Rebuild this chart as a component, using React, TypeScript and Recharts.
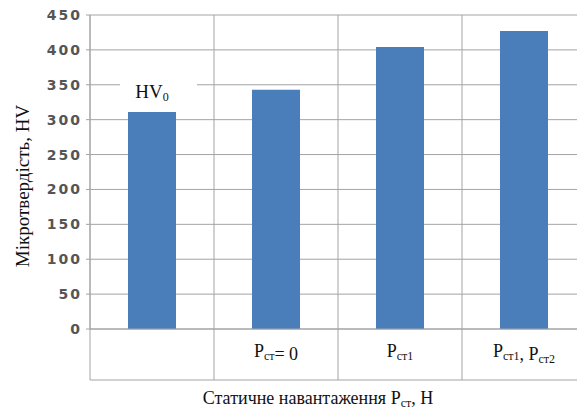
import { BarChart, Bar, XAxis, YAxis, CartesianGrid, LabelList, Label } from 'recharts';

const categories = ['', 'Pст= 0', 'Pст1', 'Pст1, Pст2'];
const hardness = [311, 343, 404, 427];
const notes = ['HV0', '', '', ''];
const yTicks = [0, 50, 100, 150, 200, 250, 300, 350, 400, 450];

const data = categories.map((name, i) => ({ name, hv: hardness[i], note: notes[i] }));

const GRID = '#a3a3a3';
const SERIF = 'Liberation Serif, serif';
const TOP = 15;
const ROW_H = 51;

// splits "Pст1, Pст2" into normal text + subscript parts
const renderSubscripts = (label: string) => {
    const parts: JSX.Element[] = [];
    const re = /P(ст\d?)/g;
    let last = 0;
    let m: RegExpExecArray | null;
    let k = 0;
    while ((m = re.exec(label)) !== null) {
        if (m.index > last) parts.push(<tspan key={k++} fontSize={18}>{label.slice(last, m.index)}</tspan>);
        parts.push(<tspan key={k++} fontSize={18}>P</tspan>);
        parts.push(<tspan key={k++} fontSize={12} dy={3}>{m[1]}</tspan>);
        parts.push(<tspan key={k++} fontSize={18} dy={-3}>{''}</tspan>);
        last = m.index + m[0].length;
    }
    if (last < label.length) parts.push(<tspan key={k++} fontSize={18}>{label.slice(last)}</tspan>);
    return parts;
};

const CategoryTick = (props: any) => {
    const { x, y, payload, index } = props;
    const half = payload.offset || 62;
    const isLast = index === categories.length - 1;
    return (
        <g>
            <line x1={x - half} y1={TOP} x2={x - half} y2={y + ROW_H} stroke={GRID} />
            {isLast && <line x1={x + half} y1={TOP} x2={x + half} y2={y + ROW_H} stroke={GRID} />}
            <line x1={x - half} y1={y + ROW_H} x2={x + half} y2={y + ROW_H} stroke={GRID} />
            <text x={x} y={y + 28} textAnchor="middle" fontFamily={SERIF} fill="#111">
                {renderSubscripts(payload.value)}
            </text>
        </g>
    );
};

const NoteLabel = (props: any) => {
    const { x, y, width, value } = props;
    if (!value) return null;
    const m = /^(\D+)(\d*)$/.exec(value);
    const cx = x + width / 2;
    return (
        <g>
            <rect x={cx - 32} y={y - 40} width={77} height={34} fill="#fff" />
            <text x={cx} y={y - 14} textAnchor="middle" fontFamily={SERIF} fill="#111">
                <tspan fontSize={19}>{m ? m[1] : value}</tspan>
                <tspan fontSize={12} dy={3}>{m ? m[2] : ''}</tspan>
            </text>
        </g>
    );
};

const App = () => (
    <div style={{ position: 'absolute', left: 0, top: 0, width: 577, height: 414, overflow: 'hidden', background: '#fff' }}>
        <BarChart width={600} height={414} data={data} margin={{ top: TOP, right: 14, bottom: 25, left: 0 }}>
            <CartesianGrid vertical={false} stroke={GRID} />
            <XAxis
                dataKey="name"
                height={60}
                interval={0}
                tickLine={false}
                tickSize={0}
                tickMargin={0}
                axisLine={{ stroke: GRID }}
                tick={<CategoryTick />}
            >
                <Label
                    content={() => (
                        <text x={318} y={404} textAnchor="middle" fontFamily={SERIF} fill="#111">
                            <tspan fontSize={18}>Статичне навантаження P</tspan>
                            <tspan fontSize={12} dy={3}>ст</tspan>
                            <tspan fontSize={18} dy={-3}>, H</tspan>
                        </text>
                    )}
                />
            </XAxis>
            <YAxis
                width={90}
                domain={[0, 450]}
                ticks={yTicks}
                interval={0}
                tickSize={4}
                tickMargin={4}
                tickLine={{ stroke: GRID }}
                axisLine={{ stroke: GRID }}
                tick={{ fill: '#555', fontSize: 14, fontFamily: 'DejaVu Sans', fontWeight: 'bold', letterSpacing: 2 }}
            >
                <Label
                    content={() => (
                        <text
                            x={29}
                            y={186}
                            transform="rotate(-90 29 186)"
                            textAnchor="middle"
                            fontFamily={SERIF}
                            fontSize={19}
                            fill="#111"
                        >
                            Мікротвердість, HV
                        </text>
                    )}
                />
            </YAxis>
            <Bar dataKey="hv" fill="#4a7ebb" barSize={48} isAnimationActive={false}>
                <LabelList dataKey="note" content={<NoteLabel />} />
            </Bar>
        </BarChart>
    </div>
);

export default App;
